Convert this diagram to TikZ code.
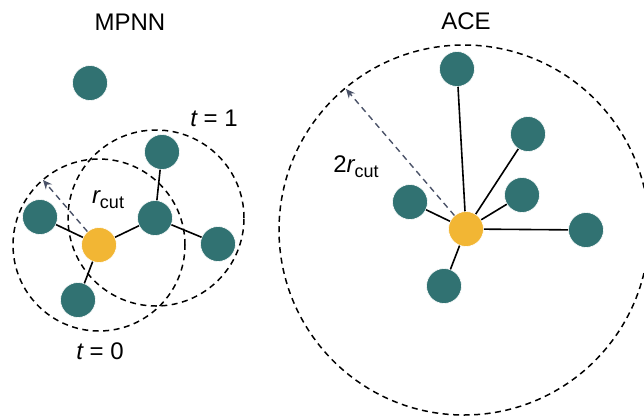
\documentclass[tikz,border=0pt]{standalone}
\usepackage{fontspec}
\setmainfont{Liberation Sans}
\usetikzlibrary{arrows.meta}
\definecolor{atomteal}{HTML}{317272}
\definecolor{atomgold}{HTML}{F2B634}
\definecolor{radiusgray}{HTML}{4A5268}
\tikzset{
  atom/.style={circle, fill=atomteal, draw=white, line width=0.6pt, minimum size=35pt, inner sep=0pt},
  centre/.style={atom, fill=atomgold},
  bond/.style={line width=1.6pt, black},
  cutoff/.style={line width=1.5pt, black, dash pattern=on 6pt off 4.5pt},
  reacharrow/.style={line width=1.4pt, radiusgray, dash pattern=on 6pt off 4.5pt, -{Stealth[length=9pt, width=8pt]}},
  lbl/.style={inner sep=0pt, font=\fontsize{24}{27}\selectfont},
}
\newcommand{\rcut}{{\itshape r}\raisebox{-5pt}{\fontsize{18}{19}\selectfont cut}}
\begin{document}
\begin{tikzpicture}[x=1pt, y=-1pt]
  \useasboundingbox (0,0) rectangle (644,416);
  \clip (0,0) rectangle (644,416);

  % ---- MPNN ----
  \node[lbl] (mtitle) at (130,22) {MPNN};
  \coordinate (mc0) at (99,245);
  \coordinate (mc1) at (156,218);
  \draw[cutoff] (mc0) circle[radius=86pt];
  \draw[cutoff] (mc1) circle[radius=88pt];

  \node[atom]   (mIso) at (90,83)   {};
  \node[centre] (mC)   at (99,245)  {};
  \node[atom]   (mL)   at (40,217)  {};
  \node[atom]   (mB)   at (78,300)  {};
  \node[atom]   (mM)   at (155,218) {};
  \node[atom]   (mT)   at (162,152) {};
  \node[atom]   (mR)   at (218,244) {};

  \draw[bond] (mC) -- (mL);
  \draw[bond] (mC) -- (mB);
  \draw[bond] (mC) -- (mM);
  \draw[bond] (mM) -- (mT);
  \draw[bond] (mM) -- (mR);

  \coordinate (mtip) at (43,180);
  \draw[reacharrow] (mC) -- (mtip);

  \node[lbl] (mr) at (108,200) {\rcut};
  \node[lbl] (t1) at (214,118) {{\itshape t} = 1};
  \node[lbl] (t0) at (100,351) {{\itshape t} = 0};

  % ---- ACE ----
  \node[lbl] (atitle) at (466,21) {ACE};
  \coordinate (ac) at (464,230);
  \draw[cutoff] (ac) circle[radius=185pt];

  \node[centre] (aC)  at (466,229) {};
  \node[atom]   (aT)  at (457,69)  {};
  \node[atom]   (aUR) at (528,134) {};
  \node[atom]   (aMR) at (522,195) {};
  \node[atom]   (aR)  at (586,230) {};
  \node[atom]   (aB)  at (444,286) {};
  \node[atom]   (aL)  at (410,202) {};

  \foreach \n in {aT,aUR,aMR,aR,aB,aL}
    \draw[bond] (aC) -- (\n);

  \coordinate (atip) at (346,89);
  \draw[reacharrow] (aC) -- (atip);

  \node[lbl] (ar) at (356,167) {2\rcut};
\end{tikzpicture}
\end{document}
